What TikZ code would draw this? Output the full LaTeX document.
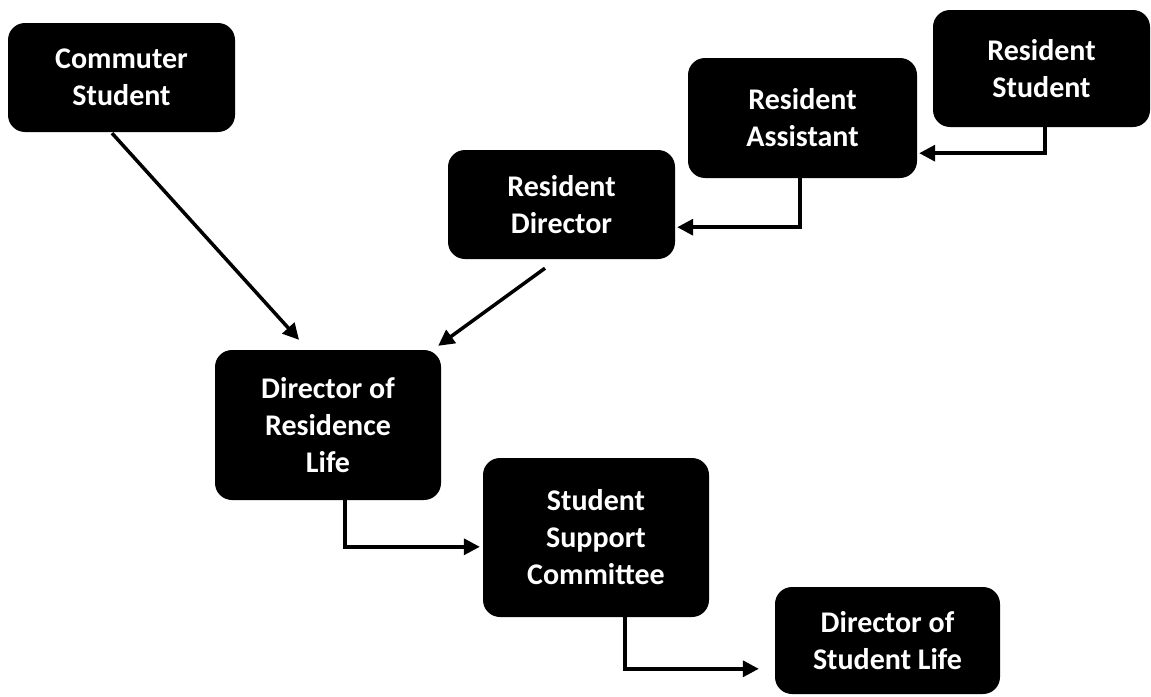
\documentclass[tikz,border=0pt]{standalone}
\usepackage{fontspec}
\setmainfont{Carlito}
\usetikzlibrary{arrows.meta,calc}
\tikzset{
  box/.style={rectangle, rounded corners=17pt, fill=black, draw=none, text=white,
    font=\fontsize{30}{37}\selectfont\bfseries, align=center, inner sep=0pt},
  conn/.style={line width=3.5pt, -{Triangle[length=16pt,width=16pt]}},
}
\begin{document}
\begin{tikzpicture}[x=1pt,y=-1pt]
\useasboundingbox (0,0) rectangle (1151,696);
\node[box, minimum width=227pt, minimum height=109pt] (cs) at (121.5,77.5) {Commuter\\Student};
\node[box, minimum width=229pt, minimum height=120pt] (ra) at (802.5,118) {Resident\\Assistant};
\node[box, minimum width=217pt, minimum height=117pt] (rs) at (1041.5,68.5) {Resident\\Student};
\node[box, minimum width=227pt, minimum height=109pt] (rd) at (561.5,204.5) {Resident\\Director};
\node[box, minimum width=226pt, minimum height=150pt] (drl) at (328,425) {Director of\\Residence\\Life};
\node[box, minimum width=226pt, minimum height=159pt] (ssc) at (596,537.5) {Student\\Support\\Committee};
\node[box, minimum width=225pt, minimum height=107pt] (dsl) at (887.5,640.5) {Director of\\Student Life};
\draw[conn] ($(cs.south)+(-9.5,1)$) -- ($(drl.north)+(-29,-10)$);
\draw[conn] ($(rd.south)+(-16.5,9)$) -- ($(drl.north east)+(-3,-4)$);
\draw[conn] ($(rs.south)+(3.5,0)$) |- ($(ra.south east)+(2,-25)$);
\draw[conn] ($(ra.south)+(-2.5,0)$) |- ($(rd.south east)+(2,-32)$);
\draw[conn] ($(drl.south)+(17,0)$) |- ($(ssc.north west)+(-3,89)$);
\draw[conn] ($(ssc.south)+(29,0)$) |- ($(dsl.north west)+(-16,82)$);
\end{tikzpicture}
\end{document}
